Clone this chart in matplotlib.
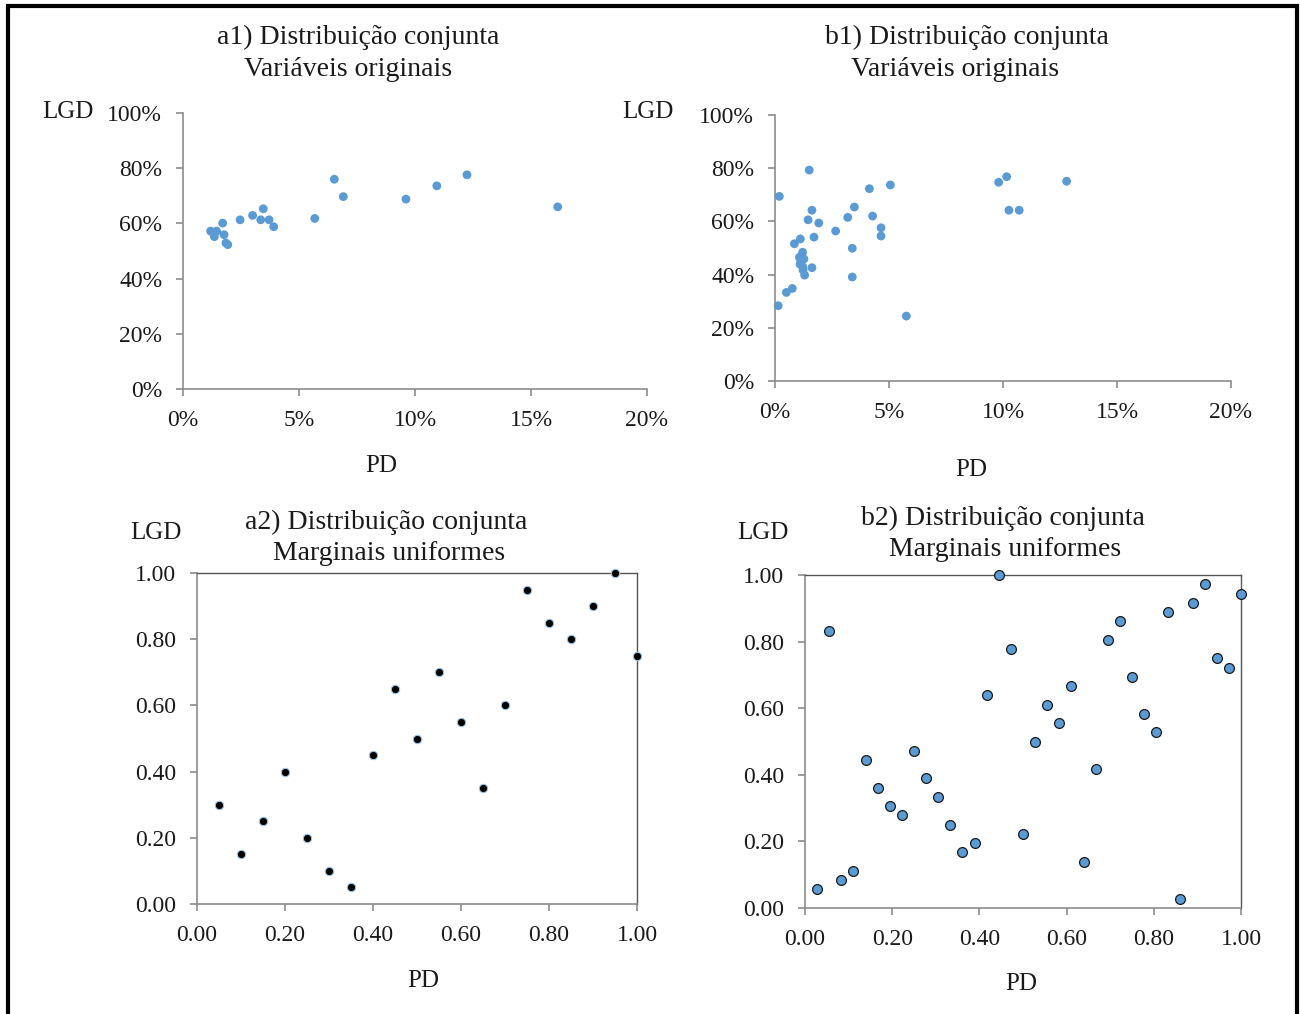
import matplotlib.pyplot as plt
from matplotlib.patches import Rectangle
from matplotlib.ticker import FuncFormatter

plt.rcParams['font.family'] = ['Liberation Serif', 'DejaVu Serif']

# a1) original variables (PD %, LGD %)
a1_pd = [1.19, 1.45, 1.35, 1.71, 1.77, 1.85, 1.93, 2.46, 3.00, 3.46,
         3.35, 3.71, 3.91, 5.68, 6.52, 6.91, 9.61, 10.94, 12.24, 16.15]
a1_lgd = [57.2, 57.2, 55.2, 60.1, 55.9, 52.9, 52.3, 61.3, 62.9, 65.3,
          61.3, 61.3, 58.8, 61.8, 76.0, 69.7, 68.8, 73.6, 77.6, 66.0]

# b1) original variables (PD %, LGD %)
b1_pd = [1.50, 0.19, 4.14, 5.06, 1.62, 3.48, 1.45, 1.92, 3.19, 4.28,
         4.65, 4.65, 2.66, 1.71, 1.11, 0.85, 1.21, 1.07, 1.27, 1.10,
         1.21, 1.62, 1.30, 3.39, 3.39, 0.76, 0.50, 0.14, 5.76, 9.81,
         10.16, 12.79, 10.26, 10.71, 1.14, 1.23]
b1_lgd = [79.3, 69.4, 72.3, 73.7, 64.2, 65.4, 60.6, 59.4, 61.5, 62.0,
          57.6, 54.5, 56.4, 54.1, 53.4, 51.6, 48.4, 46.5, 45.9, 43.9,
          43.0, 42.6, 39.8, 49.9, 39.1, 34.8, 33.3, 28.3, 24.4, 74.7,
          76.8, 75.1, 64.2, 64.2, 45.1, 41.7]

# a2) uniform marginals
a2_pd = [0.05, 0.10, 0.15, 0.20, 0.25, 0.30, 0.35, 0.40, 0.45, 0.50,
         0.55, 0.60, 0.65, 0.70, 0.75, 0.80, 0.85, 0.90, 0.95, 1.00]
a2_lgd = [0.30, 0.15, 0.25, 0.40, 0.20, 0.10, 0.05, 0.45, 0.65, 0.50,
          0.70, 0.55, 0.35, 0.60, 0.95, 0.85, 0.80, 0.90, 1.00, 0.75]

# b2) uniform marginals
b2_pd = [0.028, 0.056, 0.083, 0.111, 0.139, 0.167, 0.194, 0.222, 0.250,
         0.278, 0.306, 0.333, 0.361, 0.389, 0.417, 0.444, 0.472, 0.500,
         0.528, 0.556, 0.583, 0.611, 0.639, 0.667, 0.694, 0.722, 0.750,
         0.778, 0.806, 0.833, 0.861, 0.889, 0.917, 0.944, 0.972, 1.000]
b2_lgd = [0.056, 0.833, 0.083, 0.111, 0.444, 0.361, 0.306, 0.278, 0.472,
          0.389, 0.333, 0.250, 0.167, 0.194, 0.639, 1.000, 0.778, 0.222,
          0.500, 0.611, 0.556, 0.667, 0.139, 0.417, 0.806, 0.861, 0.694,
          0.583, 0.528, 0.889, 0.028, 0.917, 0.972, 0.750, 0.722, 0.944]

W, H = 1300, 1014
fig = plt.figure(figsize=(W / 100, H / 100), dpi=100)

grey = '#8c8c8c'
txt = '#1a1a1a'
blue = '#5b9bd5'


def add_ax(x0, y0, x1, y1):
    return fig.add_axes([x0 / W, 1 - y1 / H, (x1 - x0) / W, (y1 - y0) / H])


def ftext(x, y, s, size=17):
    fig.text(x / W, 1 - y / H, s, ha='center', va='center', fontsize=size, color=txt)


def style(ax, box=False):
    for side in ['left', 'bottom']:
        ax.spines[side].set_color(grey)
        ax.spines[side].set_linewidth(1.2)
    if box:
        for side in ['top', 'right']:
            ax.spines[side].set_color('#555555')
            ax.spines[side].set_linewidth(1.0)
    else:
        ax.spines['top'].set_visible(False)
        ax.spines['right'].set_visible(False)
    ax.tick_params(direction='out', length=5, width=1.2, color=grey,
                   labelsize=17, labelcolor=txt, pad=10)


pct = FuncFormatter(lambda v, p: f'{v:.0f}%')
dec = FuncFormatter(lambda v, p: f'{v:.2f}')

# a1
ax = add_ax(183, 113, 647, 389)
ax.scatter(a1_pd, a1_lgd, s=40, color=blue, edgecolors='none', clip_on=False)
ax.set_xlim(0, 20)
ax.set_ylim(0, 100)
ax.set_xticks([0, 5, 10, 15, 20])
ax.set_yticks([0, 20, 40, 60, 80, 100])
ax.xaxis.set_major_formatter(pct)
ax.yaxis.set_major_formatter(pct)
style(ax)

# b1
ax = add_ax(775, 115, 1231, 381)
ax.scatter(b1_pd, b1_lgd, s=40, color=blue, edgecolors='none', clip_on=False)
ax.set_xlim(0, 20)
ax.set_ylim(0, 100)
ax.set_xticks([0, 5, 10, 15, 20])
ax.set_yticks([0, 20, 40, 60, 80, 100])
ax.xaxis.set_major_formatter(pct)
ax.yaxis.set_major_formatter(pct)
style(ax)

# a2
ax = add_ax(197, 573, 637, 904)
ax.scatter(a2_pd, a2_lgd, s=36, color='black', edgecolors='#9cc3e6',
           linewidths=0.8, clip_on=False, zorder=3)
ax.set_xlim(0, 1)
ax.set_ylim(0, 1)
ax.set_xticks([0, 0.2, 0.4, 0.6, 0.8, 1.0])
ax.set_yticks([0, 0.2, 0.4, 0.6, 0.8, 1.0])
ax.xaxis.set_major_formatter(dec)
ax.yaxis.set_major_formatter(dec)
style(ax, box=True)

# b2
ax = add_ax(805, 575, 1241, 908)
ax.scatter(b2_pd, b2_lgd, s=50, color=blue, edgecolors='#1a1a1a',
           linewidths=0.9, clip_on=False, zorder=3)
ax.set_xlim(0, 1)
ax.set_ylim(0, 1)
ax.set_xticks([0, 0.2, 0.4, 0.6, 0.8, 1.0])
ax.set_yticks([0, 0.2, 0.4, 0.6, 0.8, 1.0])
ax.xaxis.set_major_formatter(dec)
ax.yaxis.set_major_formatter(dec)
style(ax, box=True)

# titles and axis labels
ftext(358, 37, 'a1) Distribuição conjunta', 20)
ftext(348, 69, 'Variáveis originais', 20)
ftext(967, 37, 'b1) Distribuição conjunta', 20)
ftext(955, 69, 'Variáveis originais', 20)
ftext(386, 522, 'a2) Distribuição conjunta', 20)
ftext(389, 554, 'Marginais uniformes', 20)
ftext(1003, 518, 'b2) Distribuição conjunta', 20)
ftext(1005, 550, 'Marginais uniformes', 20)

ftext(68, 112, 'LGD', 18)
ftext(648, 112, 'LGD', 18)
ftext(156, 533, 'LGD', 18)
ftext(763, 533, 'LGD', 18)
ftext(381, 466, 'PD', 18)
ftext(971, 470, 'PD', 18)
ftext(423, 981, 'PD', 18)
ftext(1021, 984, 'PD', 18)

# outer frame
fig.patches.append(Rectangle((8 / W, -0.02), (1297 - 8) / W, 1.02 - 6 / H,
                             transform=fig.transFigure, fill=False,
                             edgecolor='black', linewidth=3))

fig.savefig('out.png', dpi=100)
